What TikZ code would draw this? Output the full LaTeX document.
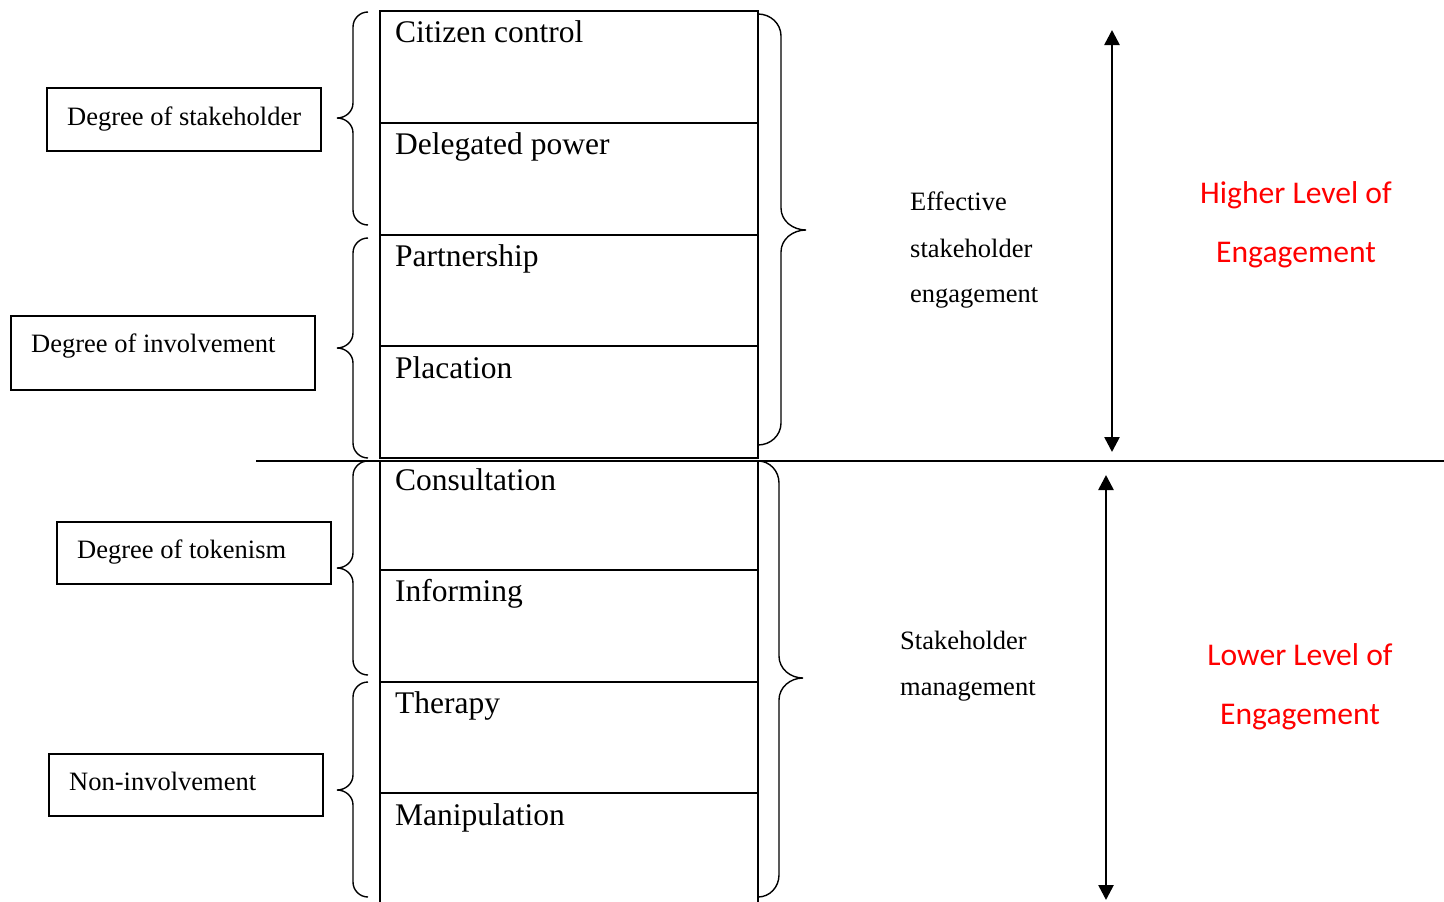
\documentclass[tikz,border=0pt]{standalone}
\usepackage{fontspec}
\setmainfont{Liberation Serif}
\newfontfamily\calibrifont{Carlito}
\usetikzlibrary{arrows.meta}
\definecolor{redtxt}{RGB}{255,0,0}
\newcommand\braceLeft[6]{% xe xv xt yt ym yb
  \draw[bracestyle] (#1,{#4}) to[out=180,in=90] (#2,{#4+15}) -- (#2,{#5-15})
    to[out=-90,in=0] (#3,{#5}) to[out=0,in=90] (#2,{#5+15}) -- (#2,{#6-15})
    to[out=-90,in=180] (#1,{#6});}
\newcommand\braceRight[6]{% xe xv xt yt ym yb
  \draw[bracestyle] (#1,{#4}) to[out=0,in=90] (#2,{#4+22}) -- (#2,{#5-22})
    to[out=-90,in=180] (#3,{#5}) to[out=180,in=90] (#2,{#5+22}) -- (#2,{#6-22})
    to[out=-90,in=0] (#1,{#6});}
\begin{document}
\begin{tikzpicture}[x=1pt,y=-1pt,
  bracestyle/.style={line width=1.4pt},
  rowbox/.style={draw,line width=1.7pt,minimum width=378pt,inner sep=0pt,outer sep=0pt,anchor=north west},
  rowtxt/.style={anchor=base west,inner sep=0pt,font=\fontsize{31.5}{36}\selectfont},
  sidebox/.style={draw,line width=1.6pt,inner sep=0pt,outer sep=0pt,anchor=north west},
  sidetxt/.style={anchor=base west,inner sep=0pt,font=\fontsize{26.5}{30}\selectfont},
  redtext/.style={anchor=base,inner sep=0pt,text=redtxt,font=\calibrifont\fontsize{31.6}{36}\selectfont},
  bigarrow/.style={line width=2.6pt,{Triangle[length=15pt,width=15pt]}-{Triangle[length=15pt,width=15pt]}},
]
\clip (0,0) rectangle (1444,902);
\fill[white] (0,0) rectangle (1444,902);

% ladder rows
\node[rowbox,minimum height=112pt] (r1) at (380,11) {};
\node[rowbox,minimum height=112pt] (r2) at (380,123) {};
\node[rowbox,minimum height=111pt] (r3) at (380,235) {};
\node[rowbox,minimum height=112pt] (r4) at (380,346) {};
\node[rowbox,minimum height=109pt] (r5) at (380,461) {};
\node[rowbox,minimum height=112pt] (r6) at (380,570) {};
\node[rowbox,minimum height=111pt] (r7) at (380,682) {};
\node[rowbox,minimum height=125pt] (r8) at (380,793) {};

\node[rowtxt] (t1) at (395,42) {Citizen control};
\node[rowtxt] (t2) at (395,154) {Delegated power};
\node[rowtxt] (t3) at (395,266) {Partnership};
\node[rowtxt] (t4) at (395,378) {Placation};
\node[rowtxt] (t5) at (395,490) {Consultation};
\node[rowtxt] (t6) at (395,601) {Informing};
\node[rowtxt] (t7) at (395,713) {Therapy};
\node[rowtxt] (t8) at (395,825) {Manipulation};

% dividing line
\coordinate (hl) at (256,461);
\coordinate (hr) at (1450,461);
\draw[line width=2.2pt] (hl) -- (hr);

% left category boxes
\node[sidebox,minimum width=274pt,minimum height=63pt] (b1) at (47,88) {};
\node[sidetxt] (s1) at (67,125) {Degree of stakeholder};
\node[sidebox,minimum width=304pt,minimum height=74pt] (b2) at (11,316) {};
\node[sidetxt] (s2) at (31,352) {Degree of involvement};
\node[sidebox,minimum width=274pt,minimum height=62pt] (b3) at (57,522) {};
\node[sidetxt] (s3) at (77,558) {Degree of tokenism};
\node[sidebox,minimum width=274pt,minimum height=62pt] (b4) at (49,754) {};
\node[sidetxt] (s4) at (69,790) {Non-involvement};

% left braces
\braceLeft{368}{353}{337}{12}{118}{225}
\braceLeft{368}{353}{337}{238}{348}{458}
\braceLeft{368}{353}{337}{461}{568}{675}
\braceLeft{368}{353}{337}{682}{790}{897}

% right braces
\braceRight{758}{781}{806}{14}{230}{445}
\braceRight{758}{779}{803}{461}{678}{897}

% right texts
\node[sidetxt] (e1) at (910,210) {Effective};
\node[sidetxt] (e2) at (910,257) {stakeholder};
\node[sidetxt] (e3) at (910,302) {engagement};
\node[sidetxt] (m1) at (900,649) {Stakeholder};
\node[sidetxt] (m2) at (900,695) {management};

% arrows
\coordinate (ua) at (1112,30);
\coordinate (ub) at (1112,452);
\draw[bigarrow] (ua) -- (ub);
\coordinate (la) at (1106,475);
\coordinate (lb) at (1106,900);
\draw[bigarrow] (la) -- (lb);

% red texts
\node[redtext] (h1) at (1296,203) {Higher Level of};
\node[redtext] (h2) at (1296,262) {Engagement};
\node[redtext] (l1) at (1300,665) {Lower Level of};
\node[redtext] (l2) at (1300,724) {Engagement};
\end{tikzpicture}
\end{document}
